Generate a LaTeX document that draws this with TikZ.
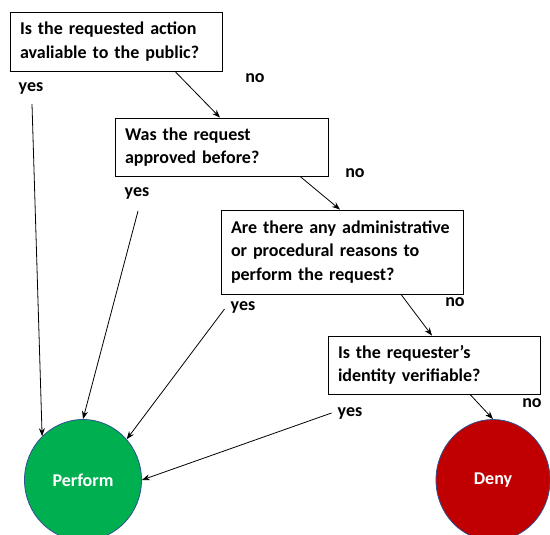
\documentclass[tikz,border=0pt]{standalone}
\usepackage{fontspec}
\setmainfont{Carlito}
\usepackage{tikz}
\usetikzlibrary{arrows.meta}
\usetikzlibrary{shapes.geometric}
\usetikzlibrary{calc}

\begin{document}
\begin{tikzpicture}[x=1pt,y=-1pt,
    question/.style={draw=black, line width=0.8pt, fill=white, rectangle, align=left, inner xsep=10pt, inner ysep=0pt, font=\fontsize{18}{23.5}\selectfont\bfseries},
    answer/.style={font=\fontsize{18}{23}\selectfont\bfseries, inner sep=0pt},
    outcome/.style={ellipse, draw={rgb,255:red,47;green,82;blue,143}, line width=0.8pt, text=white, font=\fontsize{18}{23}\selectfont\bfseries},
    link/.style={-{Stealth[length=8pt,width=6pt]}, black, line width=0.8pt}]

\useasboundingbox (0,0) rectangle (550,535);
\clip (0,0) rectangle (550,535);

\node[question, text width=192pt, minimum height=59pt] (q1) at (116,41.5) {Is the requested action\\avaliable to the public?};

\node[question, text width=193pt, minimum height=58pt] (q2) at (221.5,147) {Was the request\\approved before?};

\node[question, text width=222pt, minimum height=84pt] (q3) at (342,252) {Are there any administrative\\or procedural reasons to\\perform the request?};

\node[question, text width=192pt, minimum height=58pt] (q4) at (434,365) {Is the requester's\\identity verifiable?};

\node[outcome, fill={rgb,255:red,0;green,176;blue,80}, minimum width=117pt, minimum height=121pt] (perform) at (83,480) {Perform};

\node[outcome, fill={rgb,255:red,192;green,0;blue,0}, minimum width=114pt, minimum height=121pt] (deny) at (493,480) {Deny};

% answers
\node[answer] (yes1) at (31,88) {yes};
\node[answer] (no1) at (255,78) {no};
\node[answer] (yes2) at (137,193) {yes};
\node[answer] (no2) at (355,173) {no};
\node[answer] (yes3) at (243,307) {yes};
\node[answer] (no3) at (455,302) {no};
\node[answer] (yes4) at (350,413) {yes};
\node[answer] (no4) at (532,403) {no};

% no branch
\draw[link] ([xshift=59pt]q1.south) -- ([xshift=-1.5pt]q2.north);
\draw[link] ([xshift=78.5pt]q2.south) -- ([xshift=-2pt]q3.north);
\draw[link] ([xshift=59pt]q3.south) -- ([xshift=-2pt]q4.north);
\draw[link] ([xshift=36pt]q4.south) -- (deny.north);

% yes branch
\draw[link] ([xshift=1pt,yshift=-10pt]yes1.south) -- (perform.133);
\draw[link] ([xshift=1pt,yshift=-12pt]yes2.south) -- (perform.north);
\draw[link] ([xshift=-6pt,yshift=-2pt]yes3.west) -- (perform.43);
\draw[link] ([xshift=-6pt]yes4.west) -- (perform.east);

\end{tikzpicture}
\end{document}
